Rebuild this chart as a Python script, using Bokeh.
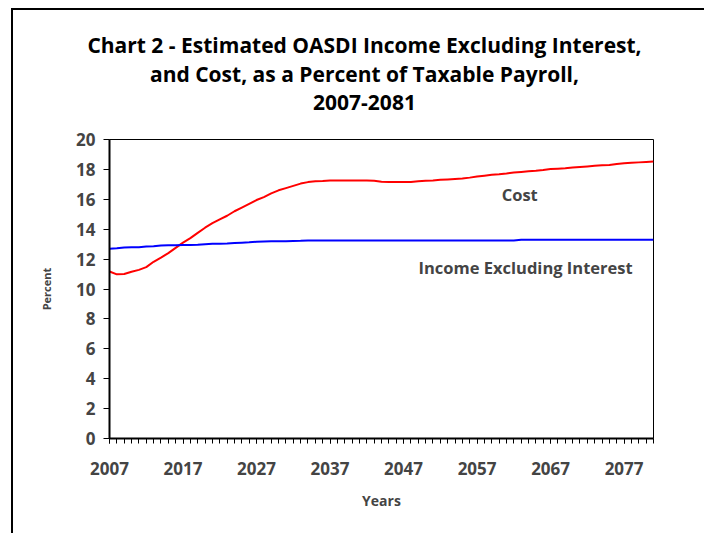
from bokeh.plotting import figure
from bokeh.layouts import column
from bokeh.models import FixedTicker, Label, Range1d, Div
from bokeh.embed import file_html
from bokeh.resources import INLINE

years = list(range(2007, 2082))
cost = [11.17, 10.98, 11.00, 11.15, 11.28, 11.46, 11.82, 12.10, 12.40, 12.75,
        13.10, 13.40, 13.75, 14.10, 14.40, 14.65, 14.90, 15.20, 15.45, 15.70,
        15.95, 16.15, 16.40, 16.60, 16.75, 16.90, 17.05, 17.15, 17.20, 17.22,
        17.26, 17.26, 17.26, 17.26, 17.26, 17.26, 17.24, 17.18, 17.15, 17.15,
        17.15, 17.16, 17.20, 17.24, 17.26, 17.30, 17.33, 17.36, 17.39, 17.45,
        17.52, 17.58, 17.64, 17.68, 17.73, 17.79, 17.83, 17.87, 17.91, 17.96,
        18.02, 18.05, 18.08, 18.12, 18.16, 18.20, 18.24, 18.27, 18.30, 18.36,
        18.41, 18.44, 18.47, 18.50, 18.53]
income = [12.70, 12.72, 12.78, 12.80, 12.80, 12.84, 12.86, 12.91, 12.92, 12.93,
          12.95, 12.95, 12.96, 13.00, 13.02, 13.03, 13.05, 13.08, 13.10, 13.12,
          13.16, 13.18, 13.19, 13.20, 13.20, 13.21, 13.22, 13.24, 13.24, 13.24,
          13.24, 13.24, 13.24, 13.24, 13.24, 13.24, 13.24, 13.24, 13.24, 13.24,
          13.24, 13.24, 13.24, 13.24, 13.24, 13.24, 13.24, 13.24, 13.24, 13.24,
          13.24, 13.24, 13.24, 13.24, 13.24, 13.24, 13.30, 13.30, 13.30, 13.30,
          13.30, 13.30, 13.30, 13.30, 13.30, 13.30, 13.30, 13.30, 13.30, 13.30,
          13.30, 13.30, 13.30, 13.30, 13.30]
x_tick_labels = list(range(2007, 2081, 10))
y_ticks = list(range(0, 21, 2))
title_lines = ["Chart 2 - Estimated OASDI Income Excluding Interest,",
               "and Cost, as a Percent of Taxable Payroll,",
               "2007-2081"]

FONT = "Open Sans"
W = 691
TITLE_H = 115

# ---- title block ----
title_html = (
    '<div style="width:679px;margin-left:12px;padding-top:21px;'
    'text-align:center;font-family:\'Open Sans\';font-weight:bold;'
    'font-size:21px;line-height:28.5px;color:black;white-space:nowrap;">'
    + "<br>".join(title_lines) + "</div>")
tdiv = Div(text=title_html, width=W, height=TITLE_H,
           styles={"background-color": "white", "margin": "0", "padding": "0"})

# ---- main chart ----
p = figure(width=W, height=523 - TITLE_H, output_backend="svg",
           toolbar_location=None,
           x_range=Range1d(years[0], years[-1]), y_range=Range1d(0, 20),
           min_border_left=96, min_border_right=51, min_border_top=14,
           min_border_bottom=95)
p.background_fill_color = "white"
p.border_fill_color = "white"
p.grid.visible = False
p.outline_line_color = "black"
p.outline_line_width = 1

p.line(years, cost, line_color="#ff0000", line_width=2)
p.line(years, income, line_color="#0000ff", line_width=2)

xa = p.xaxis[0]
xa.ticker = FixedTicker(ticks=x_tick_labels, minor_ticks=years)
xa.axis_line_width = 2
xa.major_tick_in = 0
xa.major_tick_out = 5
xa.minor_tick_in = 0
xa.minor_tick_out = 5
xa.major_label_text_font = FONT
xa.major_label_text_font_style = "bold"
xa.major_label_text_font_size = "17px"
xa.major_label_standoff = 18
xa.axis_label = "Years"
xa.axis_label_text_font = FONT
xa.axis_label_text_font_style = "bold"
xa.axis_label_text_font_size = "14px"
xa.axis_label_standoff = 13

ya = p.yaxis[0]
ya.ticker = FixedTicker(ticks=y_ticks, minor_ticks=[])
ya.axis_line_width = 2
ya.major_tick_in = 0
ya.major_tick_out = 6
ya.major_label_text_font = FONT
ya.major_label_text_font_style = "bold"
ya.major_label_text_font_size = "17px"
ya.major_label_standoff = 8
ya.axis_label = "Percent"
ya.axis_label_text_font = FONT
ya.axis_label_text_font_style = "bold"
ya.axis_label_text_font_size = "11px"
ya.axis_label_standoff = 19

p.add_layout(Label(x=2062.8, y=16.3, text="Cost", text_align="center",
                   text_baseline="middle", text_font=FONT, text_font_style="bold",
                   text_font_size="16.5px"))
p.add_layout(Label(x=2063.6, y=11.44, text="Income Excluding Interest",
                   text_align="center", text_baseline="middle", text_font=FONT,
                   text_font_style="bold", text_font_size="16.5px"))

layout = column(tdiv, p, spacing=0,
                styles={"margin-left": "11px", "margin-top": "8px",
                        "border-left": "2px solid black",
                        "border-top": "2px solid black"})

open("out.html", "w").write(file_html(layout, INLINE))
